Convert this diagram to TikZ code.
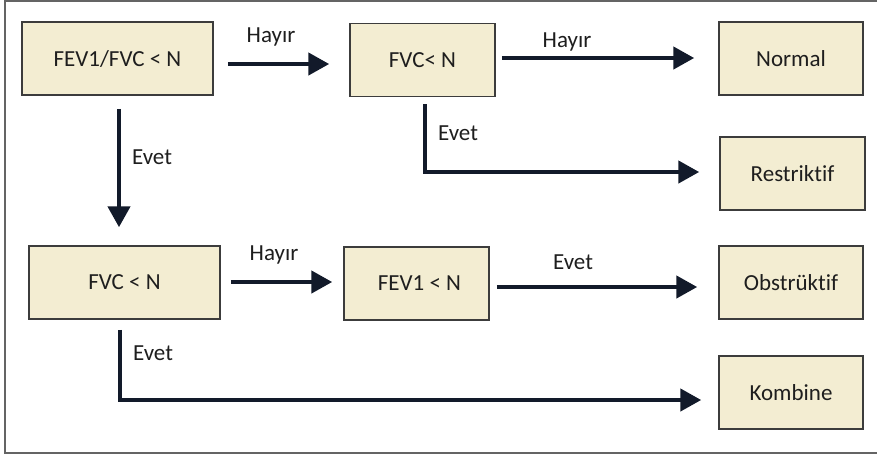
\documentclass[tikz,border=0pt]{standalone}
\usepackage{fontspec}
\setmainfont{Carlito}[Ligatures=NoCommon]
\usetikzlibrary{arrows.meta}
\definecolor{boxfill}{RGB}{243,237,210}
\definecolor{boxline}{RGB}{60,60,60}
\definecolor{arrcol}{RGB}{18,26,42}
\definecolor{framecol}{RGB}{100,100,100}
\definecolor{txtcol}{RGB}{30,30,30}
\tikzset{
  box/.style={draw=boxline, line width=1.5pt, fill=boxfill, inner sep=0pt,
    font=\fontsize{23}{26}\selectfont, text=txtcol},
  wbox/.style={box, minimum width=191pt, minimum height=73pt},
  nbox/.style={box, minimum width=145pt, minimum height=73pt},
  arr/.style={draw=arrcol, line width=4.5pt, -{Triangle[length=21pt,width=22pt]}},
  lbl/.style={font=\fontsize{23}{26}\selectfont, text=txtcol, inner sep=0pt},
}
\begin{document}
\begin{tikzpicture}[x=1pt,y=-1pt]
\useasboundingbox (0,0) rectangle (877,456);
\draw[framecol, line width=1.5pt] (877,1) -- (5,1) -- (5,453) -- (877,453);

\node[wbox] (b1) at (117.5,58.5) {FEV1/FVC < N};
\node[nbox] (b2) at (422.5,60) {FVC< N\hspace{8pt}};
\node[nbox, minimum width=144pt] (b3) at (791,58.5) {Normal\hspace{10pt}};
\node[nbox] (b4) at (792.5,173.5) {Restriktif\hspace{4pt}};
\node[wbox] (b5) at (124.5,282.5) {FVC < N\hspace{20pt}};
\node[nbox] (b6) at (416.5,283.5) {\hspace{6pt}FEV1 < N};
\node[nbox, minimum width=144pt] (b7) at (791,282.5) {Obstrüktif\hspace{10pt}};
\node[nbox, minimum width=144pt] (b8) at (791,392.5) {Kombine\hspace{10pt}};

\draw[arr] ([xshift=14pt,yshift=-5.5pt]b1.east) -- ([xshift=-20pt,yshift=-4pt]b2.west);
\draw[arr] ([xshift=6pt,yshift=2pt]b2.east) -- ([xshift=-24pt,yshift=0.5pt]b3.west);
\draw[arr] ([xshift=1.5pt,yshift=-13pt]b1.south) -- ([xshift=-5.5pt,yshift=18pt]b5.north);
\draw[arr] ([xshift=2.5pt,yshift=-7pt]b2.south) |- ([xshift=-20pt,yshift=1.5pt]b4.west);
\draw[arr] ([xshift=10pt,yshift=0.5pt]b5.east) -- ([xshift=-11pt,yshift=1.5pt]b6.west);
\draw[arr] ([xshift=7pt,yshift=-3.5pt]b6.east) -- ([xshift=-21pt,yshift=-4.5pt]b7.west);
\draw[arr] ([xshift=-4.5pt,yshift=-10pt]b5.south) |- ([xshift=-17pt,yshift=-7.5pt]b8.west);

\node[lbl] (l1) at (271,37) {Hayır};
\node[lbl] (l2) at (567,42) {Hayır};
\node[lbl] (l3) at (152,157) {Evet};
\node[lbl] (l4) at (458,133) {Evet};
\node[lbl] (l5) at (274,255) {Hayır};
\node[lbl] (l6) at (573,262) {Evet};
\node[lbl] (l7) at (153,353) {Evet};
\end{tikzpicture}
\end{document}
